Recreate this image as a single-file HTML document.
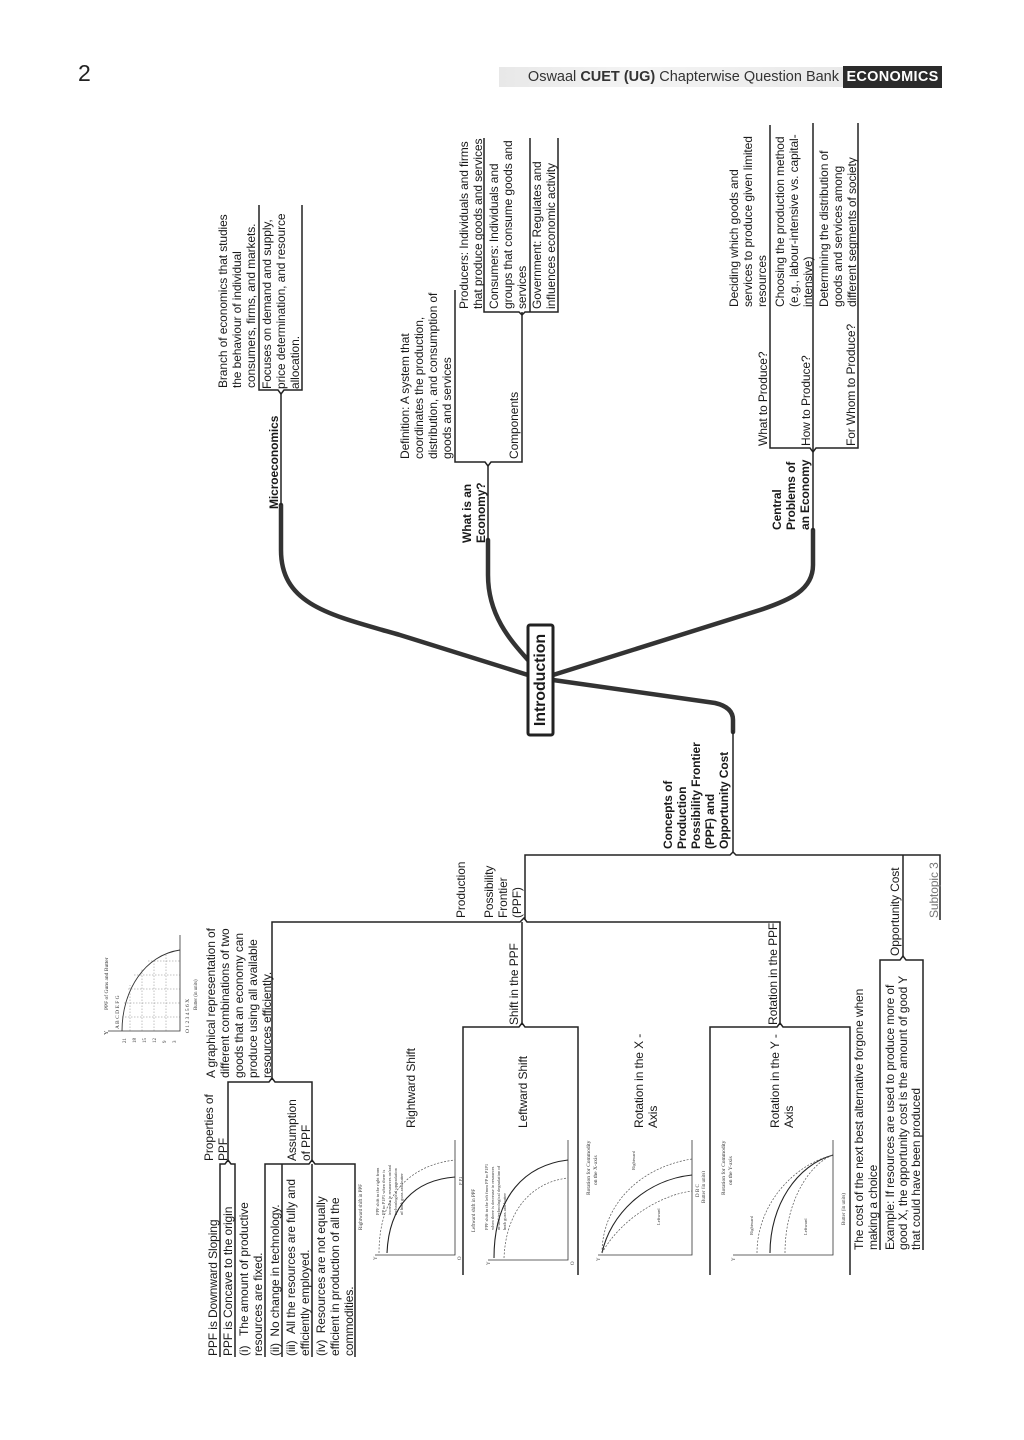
<!DOCTYPE html>
<html><head><meta charset="utf-8"><style>
html,body{margin:0;padding:0;background:#fff;}
body{width:1024px;height:1440px;position:relative;overflow:hidden;font-family:"Liberation Sans",sans-serif;color:#1a1a1a;}
#lines{position:absolute;left:0;top:0;}
#r{position:absolute;left:0;top:1440px;width:1440px;height:1024px;transform-origin:0 0;transform:rotate(-90deg);}
.t{position:absolute;white-space:nowrap;font-size:12px;line-height:14px;letter-spacing:-0.1px;}
.b{font-weight:bold;}
.m{font-size:12px;line-height:14px;}
.c{position:absolute;}
.c text{font-family:"Liberation Serif",serif;fill:#333;}
</style></head><body>
<div style="position:absolute;left:78px;top:60px;font-size:23px;color:#222;">2</div>
<div style="position:absolute;left:499px;top:67px;width:344px;height:20px;background:linear-gradient(90deg,#e8e8e8,#f4f4f4 40%,#e9e9e9);"></div>
<div style="position:absolute;left:499px;top:67px;width:340px;height:20px;line-height:20px;text-align:right;font-size:14.5px;color:#333;white-space:nowrap;">Oswaal <b>CUET (UG)</b> Chapterwise Question Bank</div>
<div style="position:absolute;left:843px;top:66px;width:99px;height:22px;background:#2b2b2b;color:#fff;font-weight:bold;font-size:14.5px;line-height:22px;text-align:center;letter-spacing:0.3px;">ECONOMICS</div>

<svg id="lines" width="1024" height="1440" fill="none" stroke="#222" stroke-width="1.5">
<g stroke="#333" stroke-width="4.5" stroke-linecap="round">
<path d="M281,505 L281,550 C281,605 330,615 400,635 L528,675"/>
<path d="M488,540 L488,575 C488,615 510,640 528,660"/>
<path d="M813,530 L813,565 C813,590 790,600 760,610 L553,675"/>
<path d="M553,680 L715,703 C728,706 733,712 733,720 L733,732"/>
</g>
<rect x="528" y="625" width="25" height="110" rx="2" stroke="#222" stroke-width="3" fill="#fff"/>
<path d="M259,205 V390 H278 L281,394 L284,390 H302 V205"/>
<path d="M281,394 V505"/>
<path d="M455,290 V462 H485 L488,466 L491,462 H522 V312"/>
<path d="M488,466 V540"/>
<path d="M484,138 V312 H519 L522,315 L525,312 H558 V138"/>
<path d="M530,138 V312"/>
<path d="M770,125 V448 H810 L813,452 L816,448 H858 V123"/>
<path d="M813,123 V530"/>
<path d="M733,730 V853"/>
<path d="M525,920 V855 H730 L733,852 L736,855 H940 V920"/>
<path d="M903,855 V957"/>
<path d="M272,1080 V922 H520 L524,918 L527,922 H780 V1025"/>
<path d="M522,922 V1025"/>
<path d="M228,1162 V1082 H269 L272,1078 L275,1082 H312 V1162"/>
<path d="M220,1357 V1164 H225 L228,1160 L231,1164 H235 V1357"/>
<path d="M265,1357 V1164 H309 L312,1160 L315,1164 H355 V1357"/>
<path d="M282,1164 V1357 M312,1164 V1357"/>
<path d="M463,1275 V1027 H519 L522,1023 L525,1027 H578 V1275"/>
<path d="M710,1275 V1027 H777 L780,1023 L783,1027 H850 V1275"/>
<path d="M880,1250 V960 H900 L903,956 L906,960 H923 V1250"/>
</svg>

<div id="r">
<div class="t" style="left:1052px;top:216px;">Branch of economics that studies<br>the behaviour of individual<br>consumers, firms, and markets.</div>
<div class="t" style="left:1051px;top:260px;">Focuses on demand and supply,<br>price determination, and resource<br>allocation.</div>
<div class="t b" style="left:931px;top:267px;">Microeconomics</div>
<div class="t b" style="left:897px;top:460px;">What is an<br>Economy?</div>
<div class="t" style="left:981px;top:398px;">Definition: A system that<br>coordinates the production,<br>distribution, and consumption of<br>goods and services</div>
<div class="t" style="left:981px;top:507px;">Components</div>
<div class="t" style="left:1131px;top:457px;">Producers: Individuals and firms<br>that produce goods and services</div>
<div class="t" style="left:1131px;top:487px;">Consumers: Individuals and<br>groups that consume goods and<br>services</div>
<div class="t" style="left:1131px;top:530px;">Government: Regulates and<br>influences economic activity</div>
<div class="t b" style="left:910px;top:770px;">Central<br>Problems of<br>an Economy</div>
<div class="t" style="left:994px;top:756px;">What to Produce?</div>
<div class="t" style="left:994px;top:799px;">How to Produce?</div>
<div class="t" style="left:994px;top:844px;">For Whom to Produce?</div>
<div class="t" style="left:1133px;top:727px;">Deciding which goods and<br>services to produce given limited<br>resources</div>
<div class="t" style="left:1133px;top:773px;">Choosing the production method<br>(e.g., labour-intensive vs. capital-<br>intensive)</div>
<div class="t" style="left:1133px;top:817px;">Determining the distribution of<br>goods and services among<br>different segments of society</div>
<div class="t b" style="left:705px;top:528px;width:110px;height:25px;line-height:25px;text-align:center;font-size:16px;">Introduction</div>
<div class="t b" style="left:591px;top:661px;">Concepts of<br>Production<br>Possibility Frontier<br>(PPF) and<br>Opportunity Cost</div>
<div class="t" style="left:522px;top:454px;">Production</div>
<div class="t" style="left:522px;top:482px;">Possibility<br>Frontier<br>(PPF)</div>
<div class="t" style="left:522px;top:927px;color:#777;">Subtopic 3</div>
<div class="t" style="left:484px;top:888px;">Opportunity Cost</div>
<div class="t m" style="left:415px;top:507px;">Shift in the PPF</div>
<div class="t m" style="left:415px;top:766px;">Rotation in the PPF</div>
<div class="t m" style="left:362px;top:204px;">A graphical representation of<br>different combinations of two<br>goods that an economy can<br>produce using all available<br>resources efficiently.</div>
<div class="t m" style="left:279px;top:202px;">Properties of<br>PPF</div>
<div class="t m" style="left:279px;top:285px;">Assumption<br>of PPF</div>
<div class="t m" style="left:312px;top:404px;">Rightward Shift</div>
<div class="t m" style="left:312px;top:516px;">Leftward Shift</div>
<div class="t m" style="left:312px;top:632px;">Rotation in the X -<br>Axis</div>
<div class="t m" style="left:312px;top:768px;">Rotation in the Y -<br>Axis</div>
<div class="t m" style="left:84px;top:206px;">PPF is Downward Sloping</div>
<div class="t m" style="left:84px;top:221px;">PPF is Concave to the origin</div>
<div class="t m" style="left:84px;top:237px;">(i)&nbsp;&nbsp;&nbsp;The amount of productive<br>resources are fixed.</div>
<div class="t m" style="left:84px;top:268px;">(ii)&nbsp;&nbsp;No change in technology.</div>
<div class="t m" style="left:84px;top:284px;">(iii)&nbsp;&nbsp;All the resources are fully and<br>efficiently employed.</div>
<div class="t m" style="left:84px;top:314px;">(iv)&nbsp;&nbsp;Resources are not equally<br>efficient in production of all the<br>commodities.</div>
<div class="t m" style="left:190px;top:853px;line-height:13.5px;">The cost of the next best alternative forgone when<br>making a choice</div>
<div class="t m" style="left:190px;top:884px;line-height:13px;">Example: If resources are used to produce more of<br>good X, the opportunity cost is the amount of good Y<br>that could have been produced</div>

<svg class="c" style="left:385px;top:100px;" width="125" height="100">
<text x="45" y="8" font-size="5.5">PPF of Guns and Butter</text>
<text x="20" y="8" font-size="6">Y</text>
<path d="M24,8 V80 H120" stroke="#333" stroke-width="0.8" fill="none"/>
<path d="M24,22 C65,22 100,45 105,80" stroke="#333" stroke-width="0.9" fill="none"/>
<path d="M24,30 H70 M24,42 H86 M24,54 H95 M24,66 H100 M38,22 V80 M52,24 V80 M66,28 V80 M80,34 V80 M94,48 V80" stroke="#666" stroke-width="0.4" stroke-dasharray="1.5,1.5" fill="none"/>
<text x="22" y="89" font-size="5.5">O   1   2   3   4   5   6  X</text>
<text x="45" y="97" font-size="4.8">Butter (in units)</text>
<text x="12" y="26" font-size="5">21</text><text x="12" y="36" font-size="5">18</text><text x="12" y="46" font-size="5">15</text><text x="12" y="56" font-size="5">12</text><text x="12" y="66" font-size="5">9</text><text x="12" y="76" font-size="5">3</text>
<text x="26" y="19" font-size="5.5">A  B  C   D   E   F  G</text>
</svg>
<svg class="c" style="left:175px;top:355px;" width="135" height="107">
<text x="35" y="7" font-size="5">Rightward shift in PPF</text>
<text x="50" y="24" font-size="4.5">PPF shift to the right from</text>
<text x="50" y="30" font-size="4.5">PP to P1P1 when there is</text>
<text x="50" y="36" font-size="4.5">increase in resources or/and</text>
<text x="50" y="42" font-size="4.5">technological upgradation</text>
<text x="50" y="48" font-size="4.5">of both guns and butter</text>
<text x="5" y="22" font-size="5">Y</text>
<path d="M10,20 V100 H125" stroke="#333" stroke-width="0.8" fill="none"/>
<path d="M12,32 C60,34 85,60 88,100" stroke="#222" stroke-width="1.1" fill="none"/>
<path d="M12,24 C70,24 100,55 105,100" stroke="#555" stroke-width="0.7" stroke-dasharray="2,1.5" fill="none"/>
<text x="80" y="107" font-size="4.5">P  P1</text>
<text x="5" y="106" font-size="5">O</text>
</svg>
<svg class="c" style="left:170px;top:468px;" width="140" height="107">
<text x="38" y="7" font-size="5">Leftward shift in PPF</text>
<text x="40" y="20" font-size="4.5">PPF shift to the left from PP to P1P1</text>
<text x="40" y="26" font-size="4.5">when there is decrease in resources</text>
<text x="40" y="32" font-size="4.5">or/and technological degradation of</text>
<text x="40" y="38" font-size="4.5">both guns and butter</text>
<text x="5" y="22" font-size="5">Y</text>
<path d="M10,20 V100 H130" stroke="#333" stroke-width="0.8" fill="none"/>
<path d="M12,26 C75,26 105,58 110,100" stroke="#222" stroke-width="1.1" fill="none"/>
<path d="M12,36 C60,38 88,64 92,100" stroke="#555" stroke-width="0.7" stroke-dasharray="2,1.5" fill="none"/>
<text x="5" y="106" font-size="5">O</text>
</svg>
<svg class="c" style="left:175px;top:580px;" width="135" height="125">
<text x="70" y="10" font-size="5.5">Rotation for Commodity</text>
<text x="80" y="17" font-size="5.5">on the X-axis</text>
<text x="4" y="20" font-size="5">Y</text>
<path d="M10,18 V112 H125" stroke="#333" stroke-width="0.8" fill="none"/>
<path d="M12,22 C50,30 85,65 90,112" stroke="#222" stroke-width="1.1" fill="none"/>
<path d="M12,22 C60,22 98,60 106,112" stroke="#555" stroke-width="0.7" stroke-dasharray="2,1.5" fill="none"/>
<path d="M12,22 C45,40 70,80 74,112" stroke="#555" stroke-width="0.7" stroke-dasharray="2,1.5" fill="none"/>
<text x="40" y="80" font-size="4.5">Leftward</text><text x="95" y="55" font-size="4.5">Rightward</text>
<text x="68" y="119" font-size="5">D   B   C</text>
<text x="62" y="125" font-size="5">Butter (in units)</text>
</svg>
<svg class="c" style="left:175px;top:715px;" width="135" height="133">
<text x="70" y="10" font-size="5.5">Rotation for Commodity</text>
<text x="80" y="17" font-size="5.5">on the Y-axis</text>
<text x="4" y="20" font-size="5">Y</text>
<path d="M10,18 V118 H125" stroke="#333" stroke-width="0.8" fill="none"/>
<path d="M12,55 C60,55 100,82 110,118" stroke="#222" stroke-width="1.1" fill="none"/>
<path d="M12,42 C60,42 100,78 110,118" stroke="#555" stroke-width="0.7" stroke-dasharray="2,1.5" fill="none"/>
<path d="M12,70 C60,70 100,92 110,118" stroke="#555" stroke-width="0.7" stroke-dasharray="2,1.5" fill="none"/>
<text x="30" y="38" font-size="4.5">Rightward</text><text x="30" y="92" font-size="4.5">Leftward</text>
<text x="40" y="130" font-size="5">Butter (in units)</text>
</svg>
</div>
</body></html>
